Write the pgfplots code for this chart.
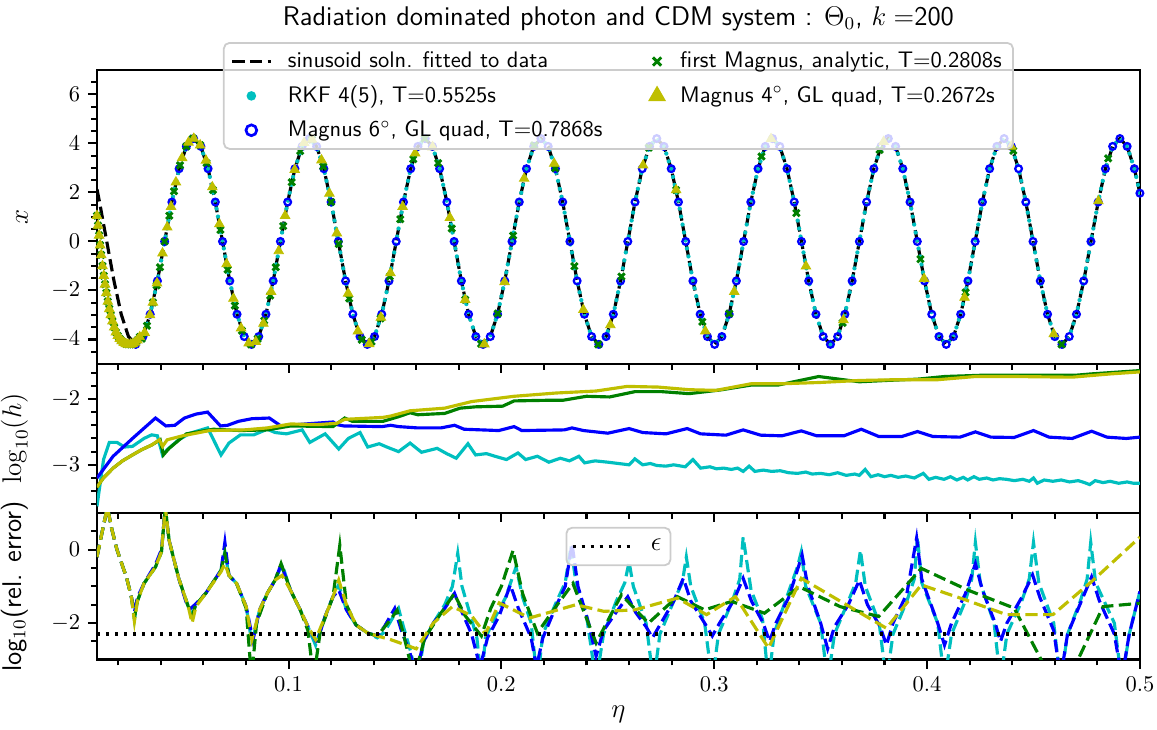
\documentclass[border=0pt]{standalone}
\usepackage{pgfplots}
\pgfplotsset{compat=1.18}
\usepackage{pgfplotstable}
\usetikzlibrary{calc}
\definecolor{mc}{rgb}{0,0.75,0.75}
\definecolor{mb}{rgb}{0,0,1}
\definecolor{mg}{rgb}{0,0.5,0}
\definecolor{my}{rgb}{0.75,0.75,0}

% fitted sinusoid, sampled 16 times per period
\pgfplotstableread{
x y
0.0100 2.13
0.0112 1.61
0.0146 0.00
0.0180 -1.61
0.0214 -2.97
0.0248 -3.88
0.0282 -4.20
0.0316 -3.88
0.0350 -2.97
0.0384 -1.61
0.0418 0.00
0.0452 1.61
0.0486 2.97
0.0520 3.88
0.0554 4.20
0.0588 3.88
0.0622 2.97
0.0656 1.61
0.0690 0.00
0.0724 -1.61
0.0758 -2.97
0.0792 -3.88
0.0826 -4.20
0.0860 -3.88
0.0894 -2.97
0.0928 -1.61
0.0962 0.00
0.0996 1.61
0.1030 2.97
0.1064 3.88
0.1098 4.20
0.1132 3.88
0.1166 2.97
0.1200 1.61
0.1234 0.00
0.1268 -1.61
0.1302 -2.97
0.1336 -3.88
0.1370 -4.20
0.1404 -3.88
0.1438 -2.97
0.1472 -1.61
0.1506 0.00
0.1540 1.61
0.1574 2.97
0.1608 3.88
0.1642 4.20
0.1676 3.88
0.1710 2.97
0.1744 1.61
0.1778 0.00
0.1812 -1.61
0.1846 -2.97
0.1880 -3.88
0.1914 -4.20
0.1948 -3.88
0.1982 -2.97
0.2016 -1.61
0.2050 0.00
0.2084 1.61
0.2118 2.97
0.2152 3.88
0.2186 4.20
0.2220 3.88
0.2254 2.97
0.2288 1.61
0.2322 0.00
0.2356 -1.61
0.2390 -2.97
0.2424 -3.88
0.2458 -4.20
0.2492 -3.88
0.2526 -2.97
0.2560 -1.61
0.2594 0.00
0.2628 1.61
0.2662 2.97
0.2696 3.88
0.2730 4.20
0.2764 3.88
0.2798 2.97
0.2832 1.61
0.2866 0.00
0.2900 -1.61
0.2934 -2.97
0.2968 -3.88
0.3002 -4.20
0.3036 -3.88
0.3070 -2.97
0.3104 -1.61
0.3138 0.00
0.3172 1.61
0.3206 2.97
0.3240 3.88
0.3274 4.20
0.3308 3.88
0.3342 2.97
0.3376 1.61
0.3410 0.00
0.3444 -1.61
0.3478 -2.97
0.3512 -3.88
0.3546 -4.20
0.3580 -3.88
0.3614 -2.97
0.3648 -1.61
0.3682 0.00
0.3716 1.61
0.3750 2.97
0.3784 3.88
0.3818 4.20
0.3852 3.88
0.3886 2.97
0.3920 1.61
0.3954 0.00
0.3988 -1.61
0.4022 -2.97
0.4056 -3.88
0.4090 -4.20
0.4124 -3.88
0.4158 -2.97
0.4192 -1.61
0.4226 0.00
0.4260 1.61
0.4294 2.97
0.4328 3.88
0.4362 4.20
0.4396 3.88
0.4430 2.97
0.4464 1.61
0.4498 0.00
0.4532 -1.61
0.4566 -2.97
0.4600 -3.88
0.4634 -4.20
0.4668 -3.88
0.4702 -2.97
0.4736 -1.61
0.4770 0.00
0.4804 1.61
0.4838 2.97
0.4872 3.88
0.4906 4.20
0.4940 3.88
0.4974 2.97
0.5000 1.97
}\sinus

% dense start of the first Magnus / Magnus 4 runs
\pgfplotstableread{
x y
0.0100 1.05
0.0105 0.65
0.0110 0.25
0.0115 -0.15
0.0120 -0.55
0.0126 -1.00
0.0132 -1.40
0.0138 -1.75
0.0144 -2.10
0.0151 -2.45
0.0158 -2.75
0.0165 -3.00
0.0173 -3.25
0.0181 -3.50
0.0189 -3.70
0.0198 -3.85
0.0207 -3.97
0.0216 -4.06
0.0226 -4.13
0.0236 -4.18
0.0246 -4.20
0.0257 -4.20
0.0268 -4.18
0.0279 -4.12
0.0290 -4.03
0.0301 -3.90
}\startpts

\pgfplotstableread{
x y
0.0311 -3.97
0.0335 -3.44
0.0363 -2.49
0.0380 -1.79
0.0396 -1.05
0.0418 0.00
0.0440 1.05
0.0462 2.05
0.0490 3.11
0.0520 3.88
0.0551 4.20
0.0585 3.93
0.0615 3.20
0.0645 2.10
0.0680 0.47
0.0714 -1.15
0.0748 -2.62
0.0781 -3.64
0.0823 -4.20
0.0855 -3.97
0.0886 -3.23
0.0914 -2.21
0.0940 -1.05
0.0975 0.63
0.1015 2.42
0.1055 3.69
0.1110 4.16
0.1163 3.06
0.1200 1.61
0.1236 -0.10
0.1285 -2.33
0.1344 -4.01
0.1390 -4.09
0.1433 -3.14
0.1476 -1.43
0.1525 0.91
0.1586 3.36
0.1640 4.20
0.1703 3.20
0.1767 0.53
0.1830 -2.38
0.1905 -4.18
0.1983 -2.94
0.2055 0.24
0.2154 3.92
0.2253 2.99
0.2343 -1.01
0.2455 -4.20
0.2564 -1.43
0.2693 3.83
0.2821 2.10
0.2944 -3.28
0.3071 -2.94
0.3222 3.47
0.3386 1.16
0.3603 -3.32
0.3777 3.74
0.3969 -0.72
0.4181 -2.08
0.4405 3.70
0.4632 -4.20
0.4851 3.39
}\greenpts

\pgfplotstableread{
x y
0.0324 -3.72
0.0349 -3.00
0.0363 -2.49
0.0382 -1.70
0.0408 -0.48
0.0430 0.58
0.0448 1.42
0.0471 2.42
0.0500 3.41
0.0530 4.04
0.0555 4.20
0.0585 3.93
0.0612 3.31
0.0642 2.22
0.0675 0.71
0.0709 -0.92
0.0741 -2.33
0.0777 -3.54
0.0813 -4.15
0.0846 -4.09
0.0882 -3.35
0.0918 -2.05
0.0954 -0.39
0.0984 1.05
0.1029 2.93
0.1073 4.03
0.1110 4.16
0.1155 3.32
0.1192 1.96
0.1227 0.34
0.1280 -2.12
0.1326 -3.66
0.1379 -4.18
0.1434 -3.10
0.1479 -1.29
0.1536 1.42
0.1595 3.60
0.1677 3.86
0.1758 0.97
0.1830 -2.38
0.1920 -4.19
0.2015 -1.65
0.2107 2.57
0.2248 3.18
0.2385 -2.79
0.2512 -3.41
0.2666 3.11
0.2821 2.10
0.2958 -3.66
0.3094 -2.05
0.3267 4.19
0.3431 -1.01
0.3607 -3.20
0.3796 4.07
0.3986 -1.52
0.4176 -2.29
0.4396 3.88
0.4595 -3.78
0.4805 1.65
}\yellowpts

% log10 of step size
\pgfplotstableread{
x y
0.0100 -3.63
0.0113 -3.33
0.0131 -2.92
0.0158 -2.66
0.0194 -2.66
0.0230 -2.73
0.0267 -2.72
0.0321 -2.60
0.0357 -2.545
0.0384 -2.56
0.0408 -2.85
0.0430 -2.77
0.0484 -2.62
0.0538 -2.52
0.0620 -2.44
0.0683 -2.85
0.0720 -2.67
0.0774 -2.545
0.0837 -2.545
0.0900 -2.46
0.0937 -2.51
0.0991 -2.53
0.1064 -2.47
0.1100 -2.66
0.1172 -2.53
0.1236 -2.76
0.1281 -2.60
0.1336 -2.51
0.1372 -2.73
0.1426 -2.68
0.1462 -2.73
0.1517 -2.80
0.1571 -2.67
0.1625 -2.81
0.1698 -2.75
0.1743 -2.83
0.1788 -2.90
0.1843 -2.68
0.1879 -2.85
0.1930 -2.83
0.1970 -2.87
0.2024 -2.92
0.2078 -2.82
0.2114 -2.92
0.2169 -2.87
0.2223 -2.96
0.2277 -2.90
0.2320 -2.94
0.2364 -2.87
0.2391 -2.97
0.2440 -2.94
0.2500 -2.96
0.2550 -2.98
0.2600 -3.00
0.2627 -2.91
0.2664 -3.00
0.2700 -2.98
0.2730 -3.01
0.2773 -3.02
0.2810 -3.00
0.2864 -3.03
0.2900 -2.92
0.2936 -3.05
0.2980 -3.03
0.3010 -3.06
0.3045 -3.05
0.3080 -3.07
0.3110 -3.05
0.3136 -3.10
0.3164 -3.02
0.3191 -3.10
0.3230 -3.08
0.3270 -3.10
0.3310 -3.09
0.3350 -3.12
0.3391 -3.13
0.3430 -3.11
0.3460 -3.14
0.3500 -3.13
0.3540 -3.15
0.3580 -3.12
0.3620 -3.16
0.3660 -3.14
0.3682 -3.16
0.3709 -3.07
0.3736 -3.18
0.3770 -3.15
0.3800 -3.18
0.3830 -3.16
0.3864 -3.19
0.3900 -3.17
0.3940 -3.20
0.3982 -3.13
0.4009 -3.22
0.4040 -3.19
0.4080 -3.22
0.4110 -3.18
0.4140 -3.23
0.4170 -3.19
0.4191 -3.23
0.4220 -3.18
0.4245 -3.22
0.4280 -3.20
0.4310 -3.23
0.4340 -3.21
0.4373 -3.22
0.4410 -3.24
0.4450 -3.22
0.4480 -3.25
0.4500 -3.20
0.4518 -3.28
0.4550 -3.23
0.4591 -3.25
0.4630 -3.23
0.4670 -3.26
0.4710 -3.24
0.4740 -3.27
0.4764 -3.30
0.4790 -3.24
0.4827 -3.27
0.4860 -3.25
0.4900 -3.28
0.4940 -3.26
0.4970 -3.28
0.5000 -3.28
}\hrkf

\pgfplotstableread{
x y
0.0100 -3.20
0.0176 -2.87
0.0267 -2.60
0.0375 -2.29
0.0424 -2.41
0.0466 -2.40
0.0511 -2.29
0.0566 -2.23
0.0620 -2.20
0.0680 -2.41
0.0714 -2.40
0.0765 -2.34
0.0828 -2.30
0.0910 -2.29
0.0964 -2.41
0.1080 -2.38
0.1210 -2.35
0.1227 -2.39
0.1260 -2.41
0.1440 -2.42
0.1480 -2.40
0.1517 -2.42
0.1607 -2.44
0.1716 -2.44
0.1780 -2.40
0.1825 -2.46
0.1988 -2.48
0.2060 -2.42
0.2096 -2.48
0.2296 -2.47
0.2332 -2.44
0.2386 -2.48
0.2500 -2.52
0.2600 -2.45
0.2664 -2.51
0.2773 -2.53
0.2873 -2.45
0.2936 -2.53
0.3055 -2.55
0.3136 -2.47
0.3218 -2.55
0.3318 -2.56
0.3409 -2.485
0.3482 -2.56
0.3609 -2.56
0.3691 -2.46
0.3773 -2.57
0.3882 -2.57
0.3955 -2.495
0.4027 -2.57
0.4155 -2.58
0.4227 -2.50
0.4300 -2.58
0.4409 -2.585
0.4500 -2.48
0.4573 -2.58
0.4682 -2.60
0.4773 -2.49
0.4845 -2.58
0.4936 -2.60
0.5000 -2.58
}\hsix

\pgfplotstableread{
x y
0.0100 -3.34
0.0130 -3.20
0.0176 -3.05
0.0220 -2.94
0.0267 -2.85
0.0310 -2.77
0.0357 -2.70
0.0397 -2.62
0.0412 -2.85
0.0439 -2.75
0.0520 -2.53
0.0647 -2.46
0.0774 -2.48
0.0900 -2.47
0.1010 -2.41
0.1209 -2.42
0.1264 -2.29
0.1300 -2.34
0.1444 -2.34
0.1517 -2.27
0.1571 -2.21
0.1607 -2.24
0.1734 -2.22
0.1806 -2.14
0.1879 -2.12
0.2006 -2.11
0.2060 -2.03
0.2227 -2.02
0.2290 -2.02
0.2400 -1.96
0.2509 -1.97
0.2627 -1.89
0.2755 -1.89
0.2882 -1.92
0.3027 -1.865
0.3173 -1.79
0.3300 -1.79
0.3491 -1.66
0.3682 -1.74
0.3809 -1.72
0.3955 -1.70
0.4082 -1.66
0.4264 -1.64
0.4500 -1.64
0.4700 -1.64
0.4773 -1.62
0.5000 -1.57
}\hone

\pgfplotstableread{
x y
0.0100 -3.34
0.0130 -3.20
0.0176 -3.05
0.0220 -2.94
0.0267 -2.85
0.0310 -2.77
0.0357 -2.70
0.0393 -2.62
0.0408 -2.72
0.0430 -2.62
0.0502 -2.56
0.0629 -2.48
0.0792 -2.47
0.0900 -2.44
0.1010 -2.38
0.1136 -2.39
0.1227 -2.37
0.1264 -2.31
0.1444 -2.28
0.1480 -2.26
0.1571 -2.18
0.1734 -2.14
0.1861 -2.04
0.2060 -1.96
0.2259 -1.91
0.2445 -1.88
0.2591 -1.81
0.2736 -1.82
0.2882 -1.86
0.3009 -1.87
0.3173 -1.77
0.3318 -1.77
0.3500 -1.75
0.3682 -1.72
0.3827 -1.71
0.4045 -1.71
0.4227 -1.66
0.4409 -1.66
0.4682 -1.67
0.4864 -1.62
0.5000 -1.59
}\hfour

% log10 of relative error
\pgfplotstableread{
x y
0.0100 -0.20
0.0125 0.50
0.0149 1.15
0.0170 0.55
0.0194 0.00
0.0240 -0.78
0.0262 -1.30
0.0276 -1.90
0.0290 -1.40
0.0321 -0.92
0.0375 -0.47
0.0403 -0.06
0.0421 1.15
0.0439 0.25
0.0484 -0.78
0.0529 -1.55
0.0547 -1.80
0.0565 -1.50
0.0611 -1.19
0.0683 -0.56
0.0701 -0.06
0.0720 -0.70
0.0756 -0.92
0.0801 -1.55
0.0828 -2.55
0.0864 -1.64
0.0900 -1.19
0.0937 -0.83
0.0970 -0.40
0.1009 -1.10
0.1055 -1.64
0.1091 -2.09
0.1127 -2.60
0.1172 -1.82
0.1209 -1.28
0.1236 -0.95
0.1272 -1.64
0.1317 -2.05
0.1372 -2.27
0.1417 -2.40
0.1450 -2.25
0.1490 -1.85
0.1517 -1.60
0.1540 -2.10
0.1575 -2.80
0.1605 -3.60
0.1635 -2.50
0.1680 -2.00
0.1734 -1.50
0.1770 -1.00
0.1795 -0.10
0.1815 -1.00
0.1850 -1.70
0.1885 -2.40
0.1906 -3.60
0.1925 -2.40
0.1970 -1.85
0.2020 -1.30
0.2069 -0.47
0.2100 -1.30
0.2140 -2.00
0.2169 -3.60
0.2195 -2.30
0.2260 -1.40
0.2300 -0.90
0.2327 0.10
0.2350 -0.90
0.2400 -1.80
0.2445 -3.60
0.2480 -2.30
0.2540 -1.40
0.2580 -0.90
0.2600 -0.33
0.2620 -1.00
0.2680 -2.00
0.2715 -3.60
0.2745 -2.30
0.2810 -1.40
0.2850 -0.90
0.2869 -0.20
0.2890 -1.00
0.2955 -2.00
0.2991 -3.60
0.3020 -2.30
0.3085 -1.40
0.3120 -0.80
0.3136 0.34
0.3173 -1.10
0.3227 -1.90
0.3255 -3.60
0.3282 -2.27
0.3336 -1.37
0.3391 -0.47
0.3409 -0.06
0.3430 -1.00
0.3500 -2.00
0.3533 -3.60
0.3565 -2.30
0.3630 -1.40
0.3665 -0.90
0.3687 -0.02
0.3710 -1.00
0.3775 -2.00
0.3809 -3.60
0.3840 -2.30
0.3905 -1.40
0.3940 -0.80
0.3955 0.34
0.3975 -0.90
0.4050 -2.00
0.4082 -3.60
0.4115 -2.30
0.4180 -1.40
0.4210 -0.80
0.4227 0.20
0.4250 -0.90
0.4315 -2.00
0.4345 -3.60
0.4375 -2.30
0.4445 -1.40
0.4480 -0.80
0.4500 0.20
0.4525 -0.90
0.4595 -2.00
0.4627 -3.60
0.4660 -2.30
0.4720 -1.40
0.4752 -0.80
0.4769 0.20
0.4792 -0.90
0.4880 -2.00
0.4915 -3.60
0.4950 -2.30
0.5000 -1.14
}\erkf

\pgfplotstableread{
x y
0.0100 -0.20
0.0125 0.50
0.0149 1.15
0.0170 0.55
0.0194 0.00
0.0240 -0.78
0.0262 -1.30
0.0276 -1.70
0.0290 -1.30
0.0321 -0.92
0.0375 -0.40
0.0403 0.00
0.0421 1.15
0.0439 0.25
0.0484 -0.78
0.0520 -1.45
0.0540 -1.60
0.0560 -1.50
0.0611 -1.19
0.0683 -0.56
0.0701 0.20
0.0720 -0.70
0.0756 -0.92
0.0801 -1.55
0.0833 -2.46
0.0864 -1.64
0.0900 -1.19
0.0937 -0.83
0.0965 -0.40
0.1009 -1.10
0.1055 -1.64
0.1091 -2.09
0.1133 -2.53
0.1172 -1.82
0.1209 -1.28
0.1236 -1.10
0.1272 -1.64
0.1317 -2.05
0.1372 -2.27
0.1417 -2.35
0.1450 -2.10
0.1499 -1.60
0.1530 -2.20
0.1570 -2.80
0.1600 -3.40
0.1635 -2.50
0.1680 -2.00
0.1734 -1.60
0.1780 -1.19
0.1815 -1.70
0.1860 -2.30
0.1900 -3.20
0.1935 -2.40
0.1990 -1.80
0.2042 -0.96
0.2080 -1.60
0.2140 -2.40
0.2165 -3.20
0.2195 -2.40
0.2260 -1.50
0.2300 -1.00
0.2332 0.16
0.2360 -1.00
0.2410 -2.00
0.2445 -2.90
0.2480 -2.20
0.2540 -1.70
0.2594 -1.28
0.2630 -1.70
0.2680 -2.10
0.2710 -2.40
0.2740 -2.10
0.2810 -1.40
0.2855 -0.78
0.2890 -1.40
0.2955 -2.00
0.2991 -2.35
0.3025 -2.00
0.3090 -1.40
0.3136 -0.78
0.3175 -1.40
0.3230 -2.00
0.3260 -2.50
0.3290 -2.00
0.3350 -1.30
0.3413 -0.15
0.3440 -1.00
0.3500 -2.00
0.3533 -2.70
0.3565 -2.10
0.3630 -1.50
0.3682 -0.83
0.3720 -1.50
0.3780 -2.10
0.3809 -2.60
0.3840 -2.00
0.3905 -1.20
0.3951 0.32
0.3975 -0.80
0.4050 -2.00
0.4082 -2.60
0.4115 -2.00
0.4180 -1.20
0.4227 -0.38
0.4260 -1.10
0.4320 -2.00
0.4345 -2.50
0.4375 -2.00
0.4445 -1.30
0.4496 -0.69
0.4530 -1.30
0.4595 -2.20
0.4627 -3.50
0.4660 -2.30
0.4725 -1.40
0.4773 -0.74
0.4810 -1.40
0.4880 -2.30
0.4915 -3.50
0.4950 -2.30
0.5000 -1.14
}\esix

\pgfplotstableread{
x y
0.0100 -0.20
0.0125 0.50
0.0149 1.15
0.0170 0.55
0.0194 0.00
0.0240 -0.78
0.0262 -1.30
0.0276 -1.85
0.0290 -1.40
0.0321 -0.92
0.0375 -0.47
0.0403 -0.06
0.0421 1.15
0.0439 0.25
0.0484 -0.78
0.0529 -1.55
0.0547 -1.80
0.0565 -1.50
0.0611 -1.19
0.0683 -0.56
0.0701 -0.10
0.0720 -0.70
0.0756 -0.92
0.0801 -1.60
0.0826 -3.50
0.0850 -2.00
0.0900 -1.19
0.0937 -0.83
0.0965 -0.38
0.1009 -1.10
0.1055 -1.64
0.1091 -2.20
0.1118 -3.50
0.1150 -2.20
0.1209 -1.28
0.1241 0.12
0.1272 -1.50
0.1317 -2.05
0.1372 -2.27
0.1417 -2.35
0.1480 -1.90
0.1510 -1.65
0.1540 -2.30
0.1590 -3.50
0.1640 -2.40
0.1720 -1.70
0.1778 -1.20
0.1830 -1.80
0.1906 -2.35
0.1950 -1.60
0.2000 -1.00
0.2055 -0.02
0.2100 -1.20
0.2169 -2.27
0.2250 -1.60
0.2336 -0.92
0.2445 -2.54
0.2564 -1.23
0.2691 -2.00
0.2827 -1.28
0.2955 -1.64
0.3082 -1.41
0.3236 -1.73
0.3400 -1.01
0.3591 -1.55
0.3773 -1.82
0.3973 -0.51
0.4191 -1.10
0.4409 -1.59
0.4627 -4.00
0.4827 -1.55
0.5000 -1.46
}\eone

\pgfplotstableread{
x y
0.0100 -0.20
0.0125 0.50
0.0149 1.15
0.0170 0.55
0.0194 0.00
0.0240 -0.78
0.0262 -1.30
0.0276 -1.95
0.0290 -1.40
0.0321 -0.92
0.0375 -0.47
0.0403 -0.06
0.0421 1.15
0.0439 0.25
0.0484 -0.78
0.0529 -1.55
0.0547 -2.00
0.0565 -1.55
0.0611 -1.19
0.0683 -0.60
0.0701 -0.38
0.0720 -0.70
0.0756 -0.92
0.0801 -1.55
0.0828 -2.45
0.0864 -1.64
0.0900 -1.19
0.0937 -0.83
0.0970 -0.70
0.1009 -1.10
0.1055 -1.64
0.1091 -2.09
0.1127 -2.45
0.1172 -1.82
0.1209 -1.28
0.1236 -0.83
0.1272 -1.50
0.1317 -2.05
0.1372 -2.27
0.1417 -2.35
0.1480 -2.45
0.1553 -2.60
0.1600 -2.70
0.1680 -2.00
0.1770 -1.55
0.1860 -1.80
0.1925 -2.30
0.1990 -1.45
0.2133 -1.86
0.2350 -1.50
0.2482 -1.68
0.2627 -1.64
0.2827 -1.32
0.2964 -1.77
0.3100 -1.28
0.3255 -2.68
0.3409 -0.78
0.3809 -2.14
0.3973 -0.96
0.4182 -1.37
0.4373 -1.77
0.4591 -1.77
0.4773 -0.87
0.5000 0.34
}\efour

\pgfplotsset{
  panel/.style={
    scale only axis, width=463.6pt,
    xmin=0.01, xmax=0.5,
    xtick={0.1,0.2,0.3,0.4,0.5},
    minor xtick={0.02,0.04,0.06,0.08,0.12,0.14,0.16,0.18,0.22,0.24,0.26,0.28,0.32,0.34,0.36,0.38,0.42,0.44,0.46,0.48},
    tick pos=left, tick align=outside,
    major tick length=4pt, minor tick length=2.5pt,
    every tick/.style={black, line width=0.9pt},
    axis line style={line width=1.2pt},
    ylabel style={anchor=south, at={(axis description cs:-0.0585,0.5)}, font=\fontsize{12}{14}\selectfont},
    legend cell align=left,
    legend image post style={draw opacity=1, fill opacity=1},
    legend style={draw=black!20, line width=0.8pt, rounded corners=2.5pt,
      fill=white, fill opacity=0.8, text opacity=1, font=\sffamily,
      /tikz/every odd column/.append style={column sep=5pt}},
  },
  dashedline/.style={line width=1.4pt, dash pattern=on 5.5pt off 2.4pt},
  hline/.style={line width=1.4pt},
}

\begin{document}
\begin{tikzpicture}

\begin{axis}[panel, name=top, height=130.7pt, ymin=-5, ymax=7,
  ytick={-4,-2,0,2,4,6},
  minor ytick={-4.5,-3.5,-3,-2.5,-1.5,-1,-0.5,0.5,1,1.5,2.5,3,3.5,4.5,5,5.5,6.5},
  xticklabels={}, ylabel={$x$},
  title={Radiation dominated photon and CDM system : $\Theta_0$, $k=$200},
  title style={at={(0.5,1)}, anchor=base, yshift=13.6pt, font=\sffamily\fontsize{12}{14}\selectfont},
  legend columns=2,
  legend style={at={(0.5,1.095)}, anchor=north, row sep=2.5pt,
    /tikz/every even column/.append style={column sep=19pt}},
]
\addplot[black, dashedline, forget plot] table {\sinus};
\addplot[mc, line width=1.9pt, line cap=round, dash pattern=on 0pt off 3.6pt, restrict x to domain=0.0275:0.5, forget plot] table {\sinus};
\addplot[mb, only marks, mark=o, mark size=1.5pt, mark options={line width=1pt}, restrict x to domain=0.0275:0.5, forget plot] table {\sinus};
\addplot[mg, only marks, mark=x, mark size=2pt, mark options={line width=1.3pt}, forget plot] table {\startpts};
\addplot[mg, only marks, mark=x, mark size=2pt, mark options={line width=1.3pt}, forget plot] table {\greenpts};
\addplot[my, only marks, mark=triangle*, mark size=2.4pt, forget plot] table {\startpts};
\addplot[my, only marks, mark=triangle*, mark size=2.4pt, forget plot] table {\yellowpts};

\addlegendimage{black, dashedline}
\addlegendentry{sinusoid soln. fitted to data}
\addlegendimage{only marks, mark=x, mg, mark size=2.6pt, mark options={line width=1.3pt}}
\addlegendentry{first Magnus, analytic, T=0.2808s}
\addlegendimage{only marks, mark=*, mc, mark size=1.7pt}
\addlegendentry{RKF 4(5), T=0.5525s}
\addlegendimage{only marks, mark=triangle*, my, mark size=3.8pt}
\addlegendentry{Magnus 4$^\circ$, GL quad, T=0.2672s}
\addlegendimage{only marks, mark=o, mb, mark size=2.4pt, mark options={line width=1.2pt}}
\addlegendentry{Magnus 6$^\circ$, GL quad, T=0.7868s}
\end{axis}

\begin{axis}[panel, name=mid, at={(top.south west)}, anchor=north west,
  height=66.2pt, ymin=-3.73, ymax=-1.47,
  ytick={-3,-2}, minor ytick={-3.6,-3.4,-3.2,-2.8,-2.6,-2.4,-2.2,-1.8,-1.6},
  xticklabels={}, ylabel={$\log_{10}(h)$}]
\addplot[mc, hline] table {\hrkf};
\addplot[mb, hline] table {\hsix};
\addplot[mg, hline] table {\hone};
\addplot[my, hline] table {\hfour};
\end{axis}

\begin{axis}[panel, name=bot, at={(mid.south west)}, anchor=north west,
  height=65.3pt, ymin=-3, ymax=1,
  ytick={-2,0}, minor ytick={-2.5,-1.5,-1,-0.5,0.5},
  xlabel={$\eta$}, xlabel style={at={(axis description cs:0.5,0)}, anchor=base, yshift=-25.8pt, font=\fontsize{12}{14}\selectfont},
  ylabel={\textsf{log}$_{10}$\textsf{(rel. error)}},
  legend image code/.code={\draw[#1] (0pt,0pt) -- (26pt,0pt);},
  legend style={at={(0.5,1)}, anchor=north, yshift=-6.2pt, inner xsep=2pt, inner ysep=3pt,
    font=\fontsize{12}{14}\selectfont, /tikz/every odd column/.append style={column sep=6pt}}]
\addplot[mc, dashedline, forget plot] table {\erkf};
\addplot[mb, dashedline, forget plot] table {\esix};
\addplot[mg, dashedline, forget plot] table {\eone};
\addplot[my, dashedline, forget plot] table {\efour};
\addplot[black, line width=1.5pt, dash pattern=on 1.5pt off 2.5pt] coordinates {(0.01,-2.301) (0.5,-2.301)};
\addlegendentry{$\epsilon$}
\end{axis}

\pgfresetboundingbox
\path ($(bot.south west)+(-43.1pt,-31.1pt)$) rectangle ($(top.north east)+(7.6pt,31.1pt)$);
\end{tikzpicture}
\end{document}
